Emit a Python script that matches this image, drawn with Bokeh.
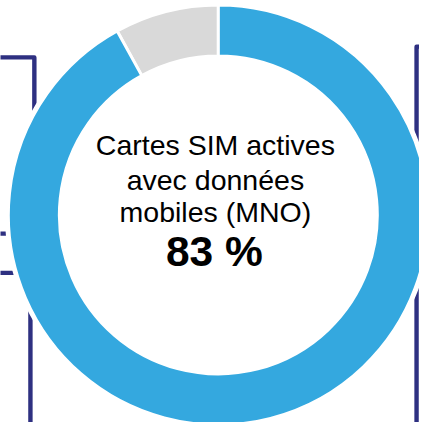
import math
from bokeh.plotting import figure
from bokeh.models import Range1d, ColumnDataSource
from bokeh.embed import file_html
from bokeh.resources import INLINE
from bokeh.core.properties import value

# ---- data ----
categories = ["Sans données", "Avec données mobiles"]
shares = [8, 92]
colors = ["#D9D9D9", "#34A8DF"]
label_lines = ["Cartes SIM actives", "avec données", "mobiles (MNO)"]
headline = "83 %"

# ---- layout (reference pixel coordinates, y measured downward) ----
W, H = 427, 430
def Y(v):
    return H - v

cx, cy = 222, 218.5
r_outer, r_inner = 214, 162
halo = 217.5
navy = "#2E3081"

p = figure(width=419, height=422, x_range=Range1d(0, W), y_range=Range1d(0, H),
           output_backend="svg", toolbar_location=None, min_border=0)
p.axis.visible = False
p.grid.visible = False
p.outline_line_color = None
p.background_fill_color = "white"
p.border_fill_color = "white"

# background frame lines
frame_xs = [[-5, 34.5, 34.5, -5], [-5, 40], [30.5, 30.5], [460, 424, 424]]
frame_ys = [[Y(58), Y(58), Y(277.5), Y(277.5)], [Y(237.5), Y(237.5)],
            [Y(250), Y(440)], [Y(47), Y(47), Y(440)]]
p.multi_line(xs=frame_xs, ys=frame_ys, line_color=navy, line_width=4.4,
             line_join="round")

# white halo around ring
p.circle(x=[cx], y=[Y(cy)], radius=halo, fill_color="white", line_color=None)

# donut
total = sum(shares)
starts, ends = [], []
acc = 0
for s in shares:
    starts.append(math.pi / 2 + 2 * math.pi * acc / total)
    acc += s
    ends.append(math.pi / 2 + 2 * math.pi * acc / total)
src = ColumnDataSource(dict(cat=categories, share=shares, color=colors,
                            start=starts, end=ends))
p.annular_wedge(x=cx, y=Y(cy), inner_radius=r_inner, outer_radius=r_outer,
                start_angle="start", end_angle="end", fill_color="color",
                line_color="white", line_width=3, source=src)

# center text (positions = visual baseline minus renderer offset)
base = [157, 192.5, 225.5]
p.text(x=[219] * 3, y=[Y(b - 10) for b in base], text=label_lines,
       text_align="center", text_baseline="alphabetic",
       text_font=value("Liberation Sans"), text_font_size="28.5px", text_color="black")
p.text(x=[218], y=[Y(271.5 - 15.5)], text=[headline], text_align="center",
       text_baseline="alphabetic", text_font=value("Liberation Sans"),
       text_font_style="bold", text_font_size="42.5px", text_color="black")

open("out.html", "w").write(file_html(p, INLINE))
